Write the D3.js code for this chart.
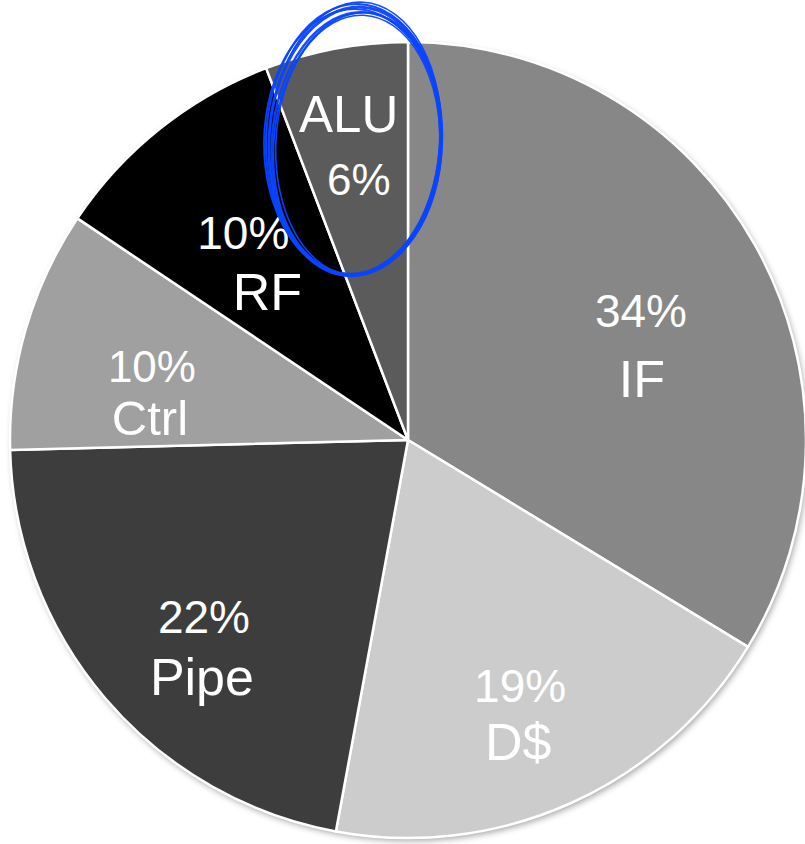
<!DOCTYPE html>
<html>
<head>
<meta charset="utf-8">
<script src="https://cdn.jsdelivr.net/npm/d3@7"></script>
<style>
  html, body { margin: 0; padding: 0; background: #fff; }
  svg { display: block; }
</style>
</head>
<body>
<svg id="chart" width="805" height="844"></svg>
<script>
// ---- data ----
const categories = ["IF", "D$", "Pipe", "Ctrl", "RF", "ALU"];
const values = [33.7, 19.2, 21.7, 9.8, 9.8, 5.8];
const pctLabels = ["34%", "19%", "22%", "10%", "10%", "6%"];
const nameFirst = [false, false, false, false, false, true];

// ---- styling / layout ----
const colors = ["#878787", "#cccccc", "#3d3d3d", "#a0a0a0", "#000000", "#5b5b5b"];
// offsets of the two label lines from each slice's centroid
const labelOffsets = [
  { l1: [15, 9],   l2: [16, 79] },
  { l1: [10, 34],  l2: [8, 92] },
  { l1: [-14, 31], l2: [-16, 93] },
  { l1: [-16, 12], l2: [-18, 65] },
  { l1: [-9, 5],   l2: [15, 66] },
  { l1: [-14, -62], l2: [-4, 1] }
];
const pctSizes = [46, 46, 46, 44, 46, 44];
const nameSizes = [52, 52, 52, 49, 52, 51];

const width = 805, height = 844;
const cx = 408, cy = 440, R = 398;
const svg = d3.select("#chart");

const defs = svg.append("defs");
const f = defs.append("filter").attr("id", "shadow")
  .attr("x", "-10%").attr("y", "-10%").attr("width", "120%").attr("height", "120%");
f.append("feDropShadow").attr("dx", 2).attr("dy", 3).attr("stdDeviation", 3)
  .attr("flood-color", "#000").attr("flood-opacity", 0.35);

const data = categories.map((c, i) => ({ name: c, value: values[i], pct: pctLabels[i], i }));
const pie = d3.pie().sort(null).value(d => d.value);
const arcs = pie(data);
const arc = d3.arc().innerRadius(0).outerRadius(R);
const labelArc = d3.arc().innerRadius(250).outerRadius(250);

const g = svg.append("g").attr("transform", `translate(${cx},${cy})`);

// shadow base
g.append("circle").attr("r", R).attr("fill", "#fff").attr("filter", "url(#shadow)");

g.selectAll("path.slice").data(arcs).join("path")
  .attr("class", "slice")
  .attr("d", arc)
  .attr("fill", d => colors[d.data.i])
  .attr("stroke", "#ffffff")
  .attr("stroke-width", 2.5)
  .attr("stroke-linejoin", "round");

const labels = g.selectAll("g.lab").data(arcs).join("g").attr("class", "lab");
labels.each(function(d) {
  const i = d.data.i;
  const [x, y] = labelArc.centroid(d);
  const o = labelOffsets[i];
  const nf = nameFirst[i];
  const first = nf ? d.data.name : d.data.pct;
  const second = nf ? d.data.pct : d.data.name;
  const s1 = nf ? nameSizes[i] : pctSizes[i];
  const s2 = nf ? pctSizes[i] : nameSizes[i];
  const sel = d3.select(this);
  sel.append("text").attr("x", x + o.l1[0]).attr("y", y + o.l1[1])
    .attr("text-anchor", "middle").attr("fill", "#fff")
    .attr("font-family", "Liberation Sans, Arial, sans-serif")
    .attr("font-size", s1).text(first);
  sel.append("text").attr("x", x + o.l2[0]).attr("y", y + o.l2[1])
    .attr("text-anchor", "middle").attr("fill", "#fff")
    .attr("font-family", "Liberation Sans, Arial, sans-serif")
    .attr("font-size", s2).text(second);
});

// hand-drawn blue ellipse around ALU
const loops = [
  { rx: 86, ry: 134, rot: 3, w: 3.0, dx: 0, dy: 0 },
  { rx: 84, ry: 131, rot: 4, w: 2.4, dx: 1, dy: 2 },
  { rx: 88, ry: 136, rot: 2, w: 2.2, dx: -1, dy: -1 },
  { rx: 83, ry: 132, rot: 5, w: 2.0, dx: 2, dy: 3 },
  { rx: 89, ry: 133, rot: 1, w: 1.8, dx: -2, dy: 1 },
  { rx: 86, ry: 137, rot: 3.5, w: 1.6, dx: 0, dy: -2 },
  { rx: 82, ry: 130, rot: 2.5, w: 1.6, dx: 3, dy: 4 }
];
const ex = 355, ey = 141;
loops.forEach(l => {
  svg.append("ellipse")
    .attr("cx", ex + l.dx).attr("cy", ey + l.dy)
    .attr("rx", l.rx).attr("ry", l.ry)
    .attr("transform", `rotate(${l.rot},${ex},${ey})`)
    .attr("fill", "none").attr("stroke", "#0a44ff")
    .attr("stroke-width", l.w).attr("opacity", 0.95);
});
</script>
</body>
</html>
